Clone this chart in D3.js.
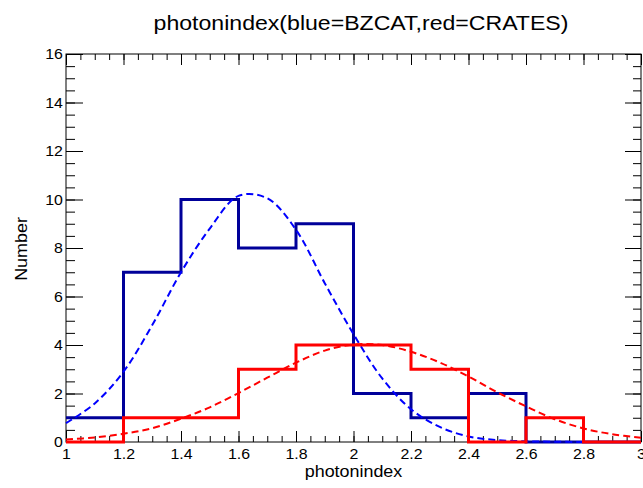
<!DOCTYPE html>
<html>
<head>
<meta charset="utf-8">
<script src="https://cdn.jsdelivr.net/npm/d3@7"></script>
<style>
  body { margin: 0; background: #fff; }
  svg { display: block; }
</style>
</head>
<body>
<div class="chart"></div>
<script>
// Histogram bins (photon index) and counts
const binEdges = [1.0, 1.2, 1.4, 1.6, 1.8, 2.0, 2.2, 2.4, 2.6, 2.8, 3.0]
const bzcatCounts = [1, 7, 10, 8, 9, 2, 1, 2, 0, 0]
const cratesCounts = [0, 1, 1, 3, 4, 4, 3, 0, 1, 0]

// Fit curves, every 0.1
const fitX = [1.0, 1.1, 1.2, 1.3, 1.4, 1.5, 1.6, 1.7, 1.8, 1.9, 2.0,
              2.1, 2.2, 2.3, 2.4, 2.5, 2.6, 2.7, 2.8, 2.9, 3.0]
const bzcatFit = [0.78, 1.59, 2.9, 4.82, 7.0, 8.8, 10.15, 10.05, 8.75, 6.55, 4.45,
                  2.62, 1.35, 0.62, 0.23, 0.08, 0.03, 0.01, 0, 0, 0]
const cratesFit = [0.1, 0.19, 0.34, 0.57, 0.96, 1.43, 2.02, 2.65, 3.27, 3.77, 4.02,
                   4.0, 3.72, 3.28, 2.7, 2.05, 1.47, 0.94, 0.56, 0.32, 0.18]

// Axis ticks
const xTicks = [1, 1.2, 1.4, 1.6, 1.8, 2, 2.2, 2.4, 2.6, 2.8, 3]
const xMinor = d3.range(0, 41).map(i => 1 + i * 0.05)
const yTicks = [0, 2, 4, 6, 8, 10, 12, 14, 16]
const yMinor = d3.range(0, 33).map(i => i * 0.5)

const W = 643, H = 488
const margin = {top: 54, right: 2, bottom: 46, left: 66}
const width = W - margin.left - margin.right
const height = H - margin.top - margin.bottom
const FONT = '"Liberation Sans", Arial, Helvetica, sans-serif'

const x = d3.scaleLinear().domain([1, 3]).range([0, width])
const y = d3.scaleLinear().domain([0, 16]).range([height, 0])

const svg = d3.select('.chart').append('svg')
    .attr('width', W)
    .attr('height', H)
    .attr('font-family', FONT)

const g = svg.append('g')
    .attr('transform', `translate(${margin.left},${margin.top})`)

// Frame
g.append('rect')
    .attr('width', width)
    .attr('height', height)
    .attr('fill', 'none')
    .attr('stroke', '#000')
    .attr('stroke-width', 1)

function cleanAxis(sel) {
    sel.attr('font-family', FONT)
    sel.select('.domain').remove()
    sel.selectAll('line').attr('stroke', '#000').attr('stroke-width', 1)
    sel.selectAll('text').attr('fill', '#000').attr('font-size', 15)
}

// Bottom axis: major with labels, minor without
g.append('g')
    .attr('transform', `translate(0,${height})`)
    .call(d3.axisBottom(x).tickValues(xTicks).tickSize(-11).tickPadding(6).tickFormat(d3.format('~g')))
    .call(cleanAxis)
    .call(a => a.selectAll('text').attr('transform', 'scale(1.06,1)'))
g.append('g')
    .attr('transform', `translate(0,${height})`)
    .call(d3.axisBottom(x).tickValues(xMinor).tickSize(-6).tickFormat(''))
    .call(cleanAxis)

// Top axis
g.append('g')
    .call(d3.axisTop(x).tickValues(xTicks).tickSize(-11).tickFormat(''))
    .call(cleanAxis)
g.append('g')
    .call(d3.axisTop(x).tickValues(xMinor).tickSize(-6).tickFormat(''))
    .call(cleanAxis)

// Left axis
g.append('g')
    .call(d3.axisLeft(y).tickValues(yTicks).tickSize(-17).tickPadding(3))
    .call(cleanAxis)
    .call(a => a.selectAll('text').attr('transform', 'scale(1.06,1)'))
g.append('g')
    .call(d3.axisLeft(y).tickValues(yMinor).tickSize(-9).tickFormat(''))
    .call(cleanAxis)

// Right axis
g.append('g')
    .attr('transform', `translate(${width},0)`)
    .call(d3.axisRight(y).tickValues(yTicks).tickSize(-16).tickFormat(''))
    .call(cleanAxis)
g.append('g')
    .attr('transform', `translate(${width},0)`)
    .call(d3.axisRight(y).tickValues(yMinor).tickSize(-8).tickFormat(''))
    .call(cleanAxis)

// Step histogram outline
function steps(counts) {
    const pts = []
    counts.forEach((c, i) => {
        pts.push([binEdges[i], c])
        pts.push([binEdges[i + 1], c])
    })
    return pts
}

const stepLine = d3.line()
    .x(d => x(d[0]))
    .y(d => y(d[1]))

const fitLine = d3.line()
    .x(d => x(d[0]))
    .y(d => y(Math.max(0, d[1])))
    .curve(d3.curveCatmullRom.alpha(0.5))

// BZCAT (blue)
g.append('path')
    .datum(steps(bzcatCounts))
    .attr('d', stepLine)
    .attr('fill', 'none')
    .attr('stroke', '#000099')
    .attr('stroke-width', 3)

g.append('path')
    .datum(fitX.map((v, i) => [v, bzcatFit[i]]))
    .attr('d', fitLine)
    .attr('fill', 'none')
    .attr('stroke', '#0000ff')
    .attr('stroke-width', 2)
    .attr('stroke-dasharray', '7,4')

// CRATES (red)
g.append('path')
    .datum(steps(cratesCounts))
    .attr('d', stepLine)
    .attr('fill', 'none')
    .attr('stroke', '#ff0000')
    .attr('stroke-width', 3)

g.append('path')
    .datum(fitX.map((v, i) => [v, cratesFit[i]]))
    .attr('d', fitLine)
    .attr('fill', 'none')
    .attr('stroke', '#ff0000')
    .attr('stroke-width', 2)
    .attr('stroke-dasharray', '7,4')

// Titles
svg.append('text')
    .attr('transform', `translate(361,30) scale(1.1,1)`)
    .attr('text-anchor', 'middle')
    .attr('font-size', 21)
    .text('photonindex(blue=BZCAT,red=CRATES)')

svg.append('text')
    .attr('transform', `translate(${margin.left + width / 2},477) scale(1.12,1)`)
    .attr('text-anchor', 'middle')
    .attr('font-size', 16)
    .text('photonindex')

svg.append('text')
    .attr('transform', `translate(27,249) rotate(-90) scale(1.12,1)`)
    .attr('text-anchor', 'middle')
    .attr('font-size', 16)
    .text('Number')
</script>
</body>
</html>
